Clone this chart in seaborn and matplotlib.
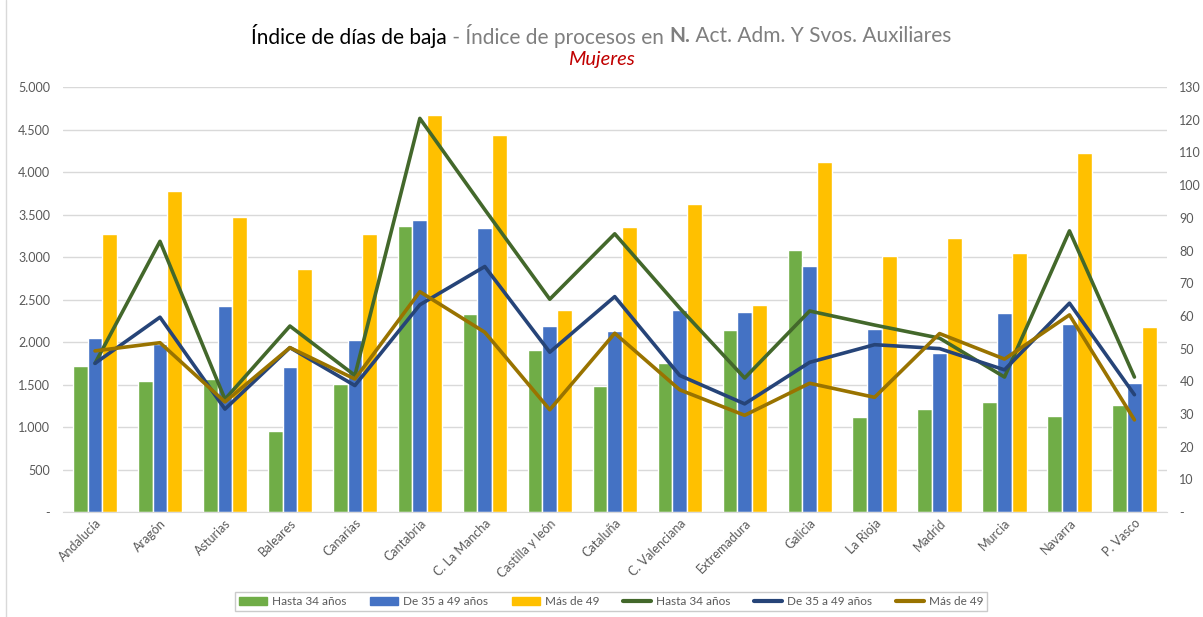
import numpy as np
import pandas as pd
import seaborn as sns
import matplotlib.pyplot as plt
from matplotlib.patches import Patch
from matplotlib.lines import Line2D
from matplotlib.ticker import FuncFormatter, MultipleLocator

regions = ["Andalucía", "Aragón", "Asturias", "Baleares", "Canarias", "Cantabria",
           "C. La Mancha", "Castilla y león", "Cataluña", "C. Valenciana", "Extremadura",
           "Galicia", "La Rioja", "Madrid", "Murcia", "Navarra", "P. Vasco"]
groups = ["Hasta 34 años", "De 35 a 49 años", "Más de 49"]

# indice de dias de baja (eje izquierdo, barras)
dias_hasta34 = [1718, 1539, 1563, 949, 1504, 3368, 2325, 1911, 1484, 1758, 2145, 3079, 1114, 1211, 1290, 1129, 1254]
dias_35_49 = [2047, 1981, 2422, 1707, 2020, 3435, 3345, 2184, 2125, 2372, 2348, 2891, 2157, 1871, 2337, 2208, 1516]
dias_mas49 = [3266, 3778, 3470, 2864, 3266, 4669, 4431, 2372, 3356, 3622, 2438, 4115, 3017, 3219, 3052, 4228, 2172]

# indice de procesos (eje derecho, lineas)
proc_hasta34 = [45.5, 82.8, 34.5, 56.9, 41.8, 120.4, 92.5, 65.1, 85.1, 62.4, 41.0, 61.5, 57.2, 53.2, 41.3, 86.0, 41.3]
proc_35_49 = [45.5, 59.6, 31.5, 50.3, 38.7, 63.4, 75.1, 48.9, 65.9, 41.8, 33.1, 45.8, 51.2, 50.0, 43.5, 63.9, 35.9]
proc_mas49 = [49.3, 51.8, 33.7, 50.3, 40.7, 67.4, 55.0, 31.3, 54.7, 37.4, 29.6, 39.4, 35.1, 54.6, 46.8, 60.3, 28.2]

bar_colors = ["#70AD47", "#4472C4", "#FFC000"]
line_colors = ["#43682B", "#264478", "#997300"]
txt = "#595959"

sns.set_style("white")
plt.rcParams["font.family"] = ["Lato", "DejaVu Sans"]

bars = pd.DataFrame({
    "region": regions * 3,
    "grupo": np.repeat(groups, len(regions)),
    "dias": dias_hasta34 + dias_35_49 + dias_mas49,
})
lines = pd.DataFrame({
    "pos": list(range(len(regions))) * 3,
    "grupo": np.repeat(groups, len(regions)),
    "procesos": proc_hasta34 + proc_35_49 + proc_mas49,
})

fig = plt.figure(figsize=(12.03, 6.17), dpi=100)
ax = fig.add_axes([0.052, 0.170, 0.918, 0.689])

sns.barplot(data=bars, x="region", y="dias", hue="grupo", palette=bar_colors,
            width=0.68, gap=0, saturation=1, ax=ax, legend=False)
ax.set_ylim(0, 5000)
ax.set_xlim(-0.5, len(regions) - 0.5)
ax.yaxis.set_major_locator(MultipleLocator(500))
ax.yaxis.set_major_formatter(FuncFormatter(lambda v, p: "-" if v == 0 else f"{int(v):,}".replace(",", ".")))
ax.grid(axis="y", color="#D9D9D9", linewidth=1)
ax.set_axisbelow(True)
ax.set_xlabel("")
ax.set_ylabel("")
for s in ["top", "right", "left"]:
    ax.spines[s].set_visible(False)
ax.spines["bottom"].set_color("#D9D9D9")
ax.tick_params(axis="both", length=0, labelsize=9, labelcolor=txt)
ax.tick_params(axis="y", pad=9)
ax.set_xticks(range(len(regions)))
ax.set_xticklabels(regions, rotation=45, ha="right", rotation_mode="anchor")

ax2 = ax.twinx()
sns.lineplot(data=lines, x="pos", y="procesos", hue="grupo", palette=line_colors,
             linewidth=2.6, ax=ax2, legend=False)
ax2.set_ylim(0, 130)
ax2.yaxis.set_major_locator(MultipleLocator(10))
ax2.yaxis.set_major_formatter(FuncFormatter(lambda v, p: "-" if v == 0 else f"{int(v)}"))
ax2.set_xlim(-0.5, len(regions) - 0.5)
ax2.set_ylabel("")
for s in ["top", "right", "left", "bottom"]:
    ax2.spines[s].set_visible(False)
ax2.tick_params(axis="y", length=0, labelsize=9, labelcolor=txt, pad=9)

# titulo en varias partes
pieces = [("Índice de días de baja", "black", "normal"),
          (" - Índice de procesos en ", "#7F7F7F", "normal"),
          ("N.", "#7F7F7F", "bold"),
          (" Act. Adm. Y Svos. Auxiliares", "#7F7F7F", "normal")]
renderer = fig.canvas.get_renderer()
parts = [fig.text(0, 0.942, s, color=c, fontweight=w, fontsize=15, va="center", ha="left")
         for s, c, w in pieces]
widths = [t.get_window_extent(renderer).width for t in parts]
x = (fig.bbox.width - sum(widths)) / 2
for t, w in zip(parts, widths):
    t.set_x(x / fig.bbox.width)
    x += w
fig.text(0.5, 0.903, "Mujeres", color="#C00000", fontsize=14.5, style="italic", ha="center", va="center")

handles = [Patch(color=c) for c in bar_colors] + [Line2D([], [], color=c, linewidth=3) for c in line_colors]
fig.legend(handles, groups + groups, loc="lower center", bbox_to_anchor=(0.508, 0.0), ncol=6,
           frameon=True, fancybox=False, edgecolor="#BFBFBF", fontsize=8.5, handlelength=2.4,
           handletextpad=0.4, columnspacing=2.0, borderpad=0.35, labelcolor=txt)

fig.add_artist(Line2D([0.005, 0.005], [0, 1], color="#D9D9D9", linewidth=1, transform=fig.transFigure))

fig.savefig("out.png", dpi=100)
